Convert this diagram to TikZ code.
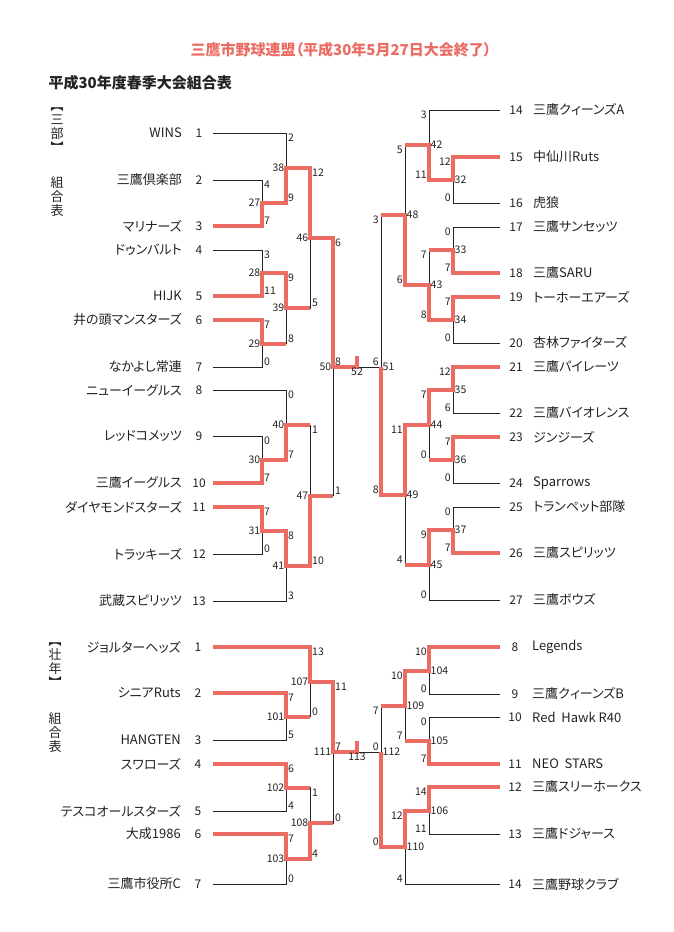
\documentclass[tikz,border=0pt]{standalone}
\usepackage{fontspec}
\usepackage{tikz}
\newfontfamily\jp[RawFeature=+palt]{Noto Sans CJK JP}
\definecolor{rdline}{RGB}{236,108,100}
\definecolor{ink}{RGB}{35,35,35}

\begin{document}
\begin{tikzpicture}[x=1pt,y=-1pt,
	lname/.style={anchor=east,inner sep=0pt,text=ink,font=\jp\fontsize{13}{15}\selectfont},
	rname/.style={anchor=west,inner sep=0pt,text=ink,font=\jp\fontsize{13}{15}\selectfont},
	tno/.style={inner sep=0pt,text=ink,font=\jp\fontsize{12}{14}\selectfont},
	mnl/.style={anchor=east,inner sep=1.5pt,text=ink,font=\jp\fontsize{10.5}{12}\selectfont},
	mnr/.style={anchor=west,inner sep=1.5pt,text=ink,font=\jp\fontsize{10.5}{12}\selectfont},
	fno/.style={anchor=north,inner sep=1pt,text=ink,font=\jp\fontsize{10.5}{12}\selectfont},
	sclt/.style={anchor=north west,inner xsep=2pt,inner ysep=1pt,text=ink,font=\jp\fontsize{10.5}{12}\selectfont},
	sclb/.style={anchor=south west,inner xsep=2pt,inner ysep=1pt,text=ink,font=\jp\fontsize{10.5}{12}\selectfont},
	scrt/.style={anchor=north east,inner xsep=2pt,inner ysep=1pt,text=ink,font=\jp\fontsize{10.5}{12}\selectfont},
	scrb/.style={anchor=south east,inner xsep=2pt,inner ysep=1pt,text=ink,font=\jp\fontsize{10.5}{12}\selectfont},
	vlab/.style={align=center,inner sep=0pt,text=ink,font=\jp\fontsize{13}{14}\selectfont},
	ln/.style={draw=ink,line width=0.9pt},
	rd/.style={draw=rdline,line width=4pt}]
	\fill[white] (0,0) rectangle (673,932);
	\useasboundingbox (0,0) rectangle (673,932);

	% headings
	\node[text=rdline,font=\jp\bfseries\fontsize{15}{17}\selectfont] (title) at (341,50) {三鷹市野球連盟（平成30年5月27日大会終了）};
	\node[anchor=west,text=ink,font=\jp\bfseries\fontsize{15}{17}\selectfont] (sub) at (45,83) {平成30年度春季大会組合表};
	\node[vlab] (g1) at (57,130) {︻\\三\\部\\︼};
	\node[vlab] (g2) at (57,197) {組\\合\\表};
	\node[vlab] (g3) at (55,665.5) {︻\\壮\\年\\︼};
	\node[vlab] (g4) at (55,733) {組\\合\\表};

	% teams, upper left
	\node[lname] (n1) at (182,133) {WINS}; \node[tno] (k1) at (199,133) {1}; \coordinate (t1) at (213,133);
	\node[lname] (n2) at (182,180) {三鷹倶楽部}; \node[tno] (k2) at (199,180) {2}; \coordinate (t2) at (213,180);
	\node[lname] (n3) at (182,226) {マリナーズ}; \node[tno] (k3) at (199,226) {3}; \coordinate (t3) at (213,226);
	\node[lname] (n4) at (182,250) {ドゥンバルト}; \node[tno] (k4) at (199,250) {4}; \coordinate (t4) at (213,250);
	\node[lname] (n5) at (182,296) {HIJK}; \node[tno] (k5) at (199,296) {5}; \coordinate (t5) at (213,296);
	\node[lname] (n6) at (182,320) {井の頭マンスターズ}; \node[tno] (k6) at (199,320) {6}; \coordinate (t6) at (213,320);
	\node[lname] (n7) at (182,367) {なかよし常連}; \node[tno] (k7) at (199,367) {7}; \coordinate (t7) at (213,367);
	\node[lname] (n8) at (182,390) {ニューイーグルス}; \node[tno] (k8) at (199,390) {8}; \coordinate (t8) at (213,390);
	\node[lname] (n9) at (182,436) {レッドコメッツ}; \node[tno] (k9) at (199,436) {9}; \coordinate (t9) at (213,436);
	\node[lname] (n10) at (182,483) {三鷹イーグルス}; \node[tno] (k10) at (199,483) {10}; \coordinate (t10) at (213,483);
	\node[lname] (n11) at (182,507) {ダイヤモンドスターズ}; \node[tno] (k11) at (199,507) {11}; \coordinate (t11) at (213,507);
	\node[lname] (n12) at (182,554) {トラッキーズ}; \node[tno] (k12) at (199,554) {12}; \coordinate (t12) at (213,554);
	\node[lname] (n13) at (182,601) {武蔵スピリッツ}; \node[tno] (k13) at (199,601) {13}; \coordinate (t13) at (213,601);

	% teams, upper right
	\coordinate (t14) at (500,110); \node[tno] (k14) at (516,110) {14}; \node[rname] (n14) at (533,110) {三鷹クィーンズA};
	\coordinate (t15) at (500,157); \node[tno] (k15) at (516,157) {15}; \node[rname] (n15) at (533,157) {中仙川Ruts};
	\coordinate (t16) at (500,203); \node[tno] (k16) at (516,203) {16}; \node[rname] (n16) at (533,203) {虎狼};
	\coordinate (t17) at (500,227); \node[tno] (k17) at (516,227) {17}; \node[rname] (n17) at (533,227) {三鷹サンセッツ};
	\coordinate (t18) at (500,273); \node[tno] (k18) at (516,273) {18}; \node[rname] (n18) at (533,273) {三鷹SARU};
	\coordinate (t19) at (500,297); \node[tno] (k19) at (516,297) {19}; \node[rname] (n19) at (533,297) {トーホーエアーズ};
	\coordinate (t20) at (500,343); \node[tno] (k20) at (516,343) {20}; \node[rname] (n20) at (533,343) {杏林ファイターズ};
	\coordinate (t21) at (500,367); \node[tno] (k21) at (516,367) {21}; \node[rname] (n21) at (533,367) {三鷹パイレーツ};
	\coordinate (t22) at (500,413); \node[tno] (k22) at (516,413) {22}; \node[rname] (n22) at (533,413) {三鷹バイオレンス};
	\coordinate (t23) at (500,437); \node[tno] (k23) at (516,437) {23}; \node[rname] (n23) at (533,437) {ジンジーズ};
	\coordinate (t24) at (500,483); \node[tno] (k24) at (516,483) {24}; \node[rname] (n24) at (533,483) {Sparrows};
	\coordinate (t25) at (500,507); \node[tno] (k25) at (516,507) {25}; \node[rname] (n25) at (533,507) {トランペット部隊};
	\coordinate (t26) at (500,553); \node[tno] (k26) at (516,553) {26}; \node[rname] (n26) at (533,553) {三鷹スピリッツ};
	\coordinate (t27) at (500,600); \node[tno] (k27) at (516,600) {27}; \node[rname] (n27) at (533,600) {三鷹ボウズ};

	% teams, lower
	\node[lname] (p1) at (181,647) {ジョルターヘッズ}; \node[tno] (q1) at (198,647) {1}; \coordinate (u1) at (213,647);
	\node[lname] (p2) at (181,693) {シニアRuts}; \node[tno] (q2) at (198,693) {2}; \coordinate (u2) at (213,693);
	\node[lname] (p3) at (181,740) {HANGTEN}; \node[tno] (q3) at (198,740) {3}; \coordinate (u3) at (213,740);
	\node[lname] (p4) at (181,764) {スワローズ}; \node[tno] (q4) at (198,764) {4}; \coordinate (u4) at (213,764);
	\node[lname] (p5) at (181,811) {テスコオールスターズ}; \node[tno] (q5) at (198,811) {5}; \coordinate (u5) at (213,811);
	\node[lname] (p6) at (181,834) {大成1986}; \node[tno] (q6) at (198,834) {6}; \coordinate (u6) at (213,834);
	\node[lname] (p7) at (181,884) {三鷹市役所C}; \node[tno] (q7) at (198,884) {7}; \coordinate (u7) at (213,884);
	\coordinate (u8) at (500,647); \node[tno] (q8) at (515,647) {8}; \node[rname] (p8) at (532,647) {Legends};
	\coordinate (u9) at (500,694); \node[tno] (q9) at (515,694) {9}; \node[rname] (p9) at (532,694) {三鷹クィーンズB};
	\coordinate (u10) at (500,717); \node[tno] (q10) at (515,717) {10}; \node[rname] (p10) at (532,717) {Red\ \ Hawk R40};
	\coordinate (u11) at (500,764); \node[tno] (q11) at (515,764) {11}; \node[rname] (p11) at (532,764) {NEO\ \ STARS};
	\coordinate (u12) at (500,787); \node[tno] (q12) at (515,787) {12}; \node[rname] (p12) at (532,787) {三鷹スリーホークス};
	\coordinate (u13) at (500,834); \node[tno] (q13) at (515,834) {13}; \node[rname] (p13) at (532,834) {三鷹ドジャース};
	\coordinate (u14) at (500,884); \node[tno] (q14) at (515,884) {14}; \node[rname] (p14) at (532,884) {三鷹野球クラブ};

	% match points
	\coordinate (m27) at (262,203); \coordinate (m28) at (262,273); \coordinate (m29) at (262,343.5);
	\coordinate (m30) at (262,459.5); \coordinate (m31) at (262,530.5);
	\coordinate (m38) at (286,168); \coordinate (m39) at (286,308); \coordinate (m40) at (286,425); \coordinate (m41) at (286,566);
	\coordinate (m46) at (310,238); \coordinate (m47) at (310,495.5);
	\coordinate (m50) at (333,367); \coordinate (m52) at (357,367); \coordinate (m51) at (381,367);
	\coordinate (m48) at (405,215); \coordinate (m49) at (405,495);
	\coordinate (m42) at (429,145); \coordinate (m43) at (429,285); \coordinate (m44) at (429,425); \coordinate (m45) at (429,565);
	\coordinate (m32) at (453,180); \coordinate (m33) at (453,250); \coordinate (m34) at (453,320);
	\coordinate (m35) at (453,390); \coordinate (m36) at (453,460); \coordinate (m37) at (453,530);
	\coordinate (m101) at (286,716.5); \coordinate (m102) at (286,787.5); \coordinate (m103) at (286,859);
	\coordinate (m107) at (310,682); \coordinate (m108) at (310,823);
	\coordinate (m111) at (333,752); \coordinate (m113) at (357,752); \coordinate (m112) at (381,752);
	\coordinate (m109) at (405,705.5); \coordinate (m110) at (405,847);
	\coordinate (m104) at (429,670.5); \coordinate (m105) at (429,740.5); \coordinate (m106) at (429,810.5);

	% bracket lines
	\draw[ln] (t1) -| (m38) (t2) -| (m27) (t3) -| (m27) (m27) -| (m38) (m38) -| (m46)
		(t4) -| (m28) (t5) -| (m28) (t6) -| (m29) (t7) -| (m29) (m28) -| (m39) (m29) -| (m39) (m39) -| (m46)
		(t8) -| (m40) (t9) -| (m30) (t10) -| (m30) (m30) -| (m40) (t11) -| (m31) (t12) -| (m31)
		(m31) -| (m41) (t13) -| (m41) (m40) -| (m47) (m41) -| (m47) (m46) -| (m50) (m47) -| (m50)
		(m50) -- (m51);
	\draw[ln] (t14) -| (m42) (t15) -| (m32) (t16) -| (m32) (m32) -| (m42) (t17) -| (m33) (t18) -| (m33)
		(t19) -| (m34) (t20) -| (m34) (m33) -| (m43) (m34) -| (m43) (m42) -| (m48) (m43) -| (m48)
		(t21) -| (m35) (t22) -| (m35) (t23) -| (m36) (t24) -| (m36) (m35) -| (m44) (m36) -| (m44)
		(t25) -| (m37) (t26) -| (m37) (m37) -| (m45) (t27) -| (m45) (m44) -| (m49) (m45) -| (m49)
		(m48) -| (m51) (m49) -| (m51);
	\draw[ln] (u1) -| (m107) (u2) -| (m101) (u3) -| (m101) (m101) -| (m107) (u4) -| (m102) (u5) -| (m102)
		(u6) -| (m103) (u7) -| (m103) (m102) -| (m108) (m103) -| (m108) (m107) -| (m111) (m108) -| (m111)
		(m111) -- (m112)
		(u8) -| (m104) (u9) -| (m104) (u10) -| (m105) (u11) -| (m105) (m104) -| (m109) (m105) -| (m109)
		(u12) -| (m106) (u13) -| (m106) (m106) -| (m110) (u14) -| (m110) (m109) -| (m112) (m110) -| (m112);

	% winners
	\draw[rd] (t3) -| (m27) -| (m38) -| (m46) -| (m50) -- (m52) -- ++(0,-11);
	\draw[rd] (t5) -| (m28) -| (m39) -- (m39 -| m46);
	\draw[rd] (t6) -| (m29) -- (m29 -| m39);
	\draw[rd] (t10) -| (m30) -| (m40) -- (m40 -| m47);
	\draw[rd] (t11) -| (m31) -| (m41) -| (m47) -- (m47 -| m50);
	\draw[rd] (t15) -| (m32) -| (m42) -- (m42 -| m48);
	\draw[rd] (t18) -| (m33) -- (m33 -| m43);
	\draw[rd] (t19) -| (m34) -| (m43) -| (m48) -- (m48 -| m51);
	\draw[rd] (t21) -| (m35) -| (m44) -| (m49) -| (m51);
	\draw[rd] (t23) -| (m36) -- (m36 -| m44);
	\draw[rd] (t26) -| (m37) -| (m45) -- (m45 -| m49);
	\draw[rd] (u1) -| (m107) -| (m111) -- (m113) -- ++(0,-11);
	\draw[rd] (u2) -| (m101) -- (m101 -| m107);
	\draw[rd] (u4) -| (m102) -- (m102 -| m108);
	\draw[rd] (u6) -| (m103) -| (m108) -- (m108 -| m111);
	\draw[rd] (u8) -| (m104) -| (m109) -- (m109 -| m112);
	\draw[rd] (u11) -| (m105) -- (m105 -| m109);
	\draw[rd] (u12) -| (m106) -| (m110) -| (m112);

	% match numbers
	\node[mnl] (l27) at (m27) {27}; \node[mnl] (l28) at (m28) {28}; \node[mnl] (l29) at (m29) {29};
	\node[mnl] (l30) at (m30) {30}; \node[mnl] (l31) at (m31) {31}; \node[mnl] (l38) at (m38) {38};
	\node[mnl] (l39) at (m39) {39}; \node[mnl] (l40) at (m40) {40}; \node[mnl] (l41) at (m41) {41};
	\node[mnl] (l46) at (m46) {46}; \node[mnl] (l47) at (m47) {47}; \node[mnl] (l50) at (m50) {50};
	\node[mnr] (l32) at (m32) {32}; \node[mnr] (l33) at (m33) {33}; \node[mnr] (l34) at (m34) {34};
	\node[mnr] (l35) at (m35) {35}; \node[mnr] (l36) at (m36) {36}; \node[mnr] (l37) at (m37) {37};
	\node[mnr] (l42) at (m42) {42}; \node[mnr] (l43) at (m43) {43}; \node[mnr] (l44) at (m44) {44};
	\node[mnr] (l45) at (m45) {45}; \node[mnr] (l48) at (m48) {48}; \node[mnr] (l49) at (m49) {49};
	\node[mnr] (l51) at (m51) {51}; \node[fno] (l52) at (m52) {52};
	\node[mnl] (l101) at (m101) {101}; \node[mnl] (l102) at (m102) {102}; \node[mnl] (l103) at (m103) {103};
	\node[mnl] (l107) at (m107) {107}; \node[mnl] (l108) at (m108) {108}; \node[mnl] (l111) at (m111) {111};
	\node[mnr] (l104) at (m104) {104}; \node[mnr] (l105) at (m105) {105}; \node[mnr] (l106) at (m106) {106};
	\node[mnr] (l109) at (m109) {109}; \node[mnr] (l110) at (m110) {110}; \node[mnr] (l112) at (m112) {112};
	\node[fno] (l113) at (m113) {113};

	% scores
	\node[sclt] (s1) at (t1 -| m38) {2}; \node[sclb] (s2) at (m27 -| m38) {9};
	\node[sclt] (s3) at (t2 -| m27) {4}; \node[sclb] (s4) at (t3 -| m27) {7};
	\node[sclt] (s5) at (t4 -| m28) {3}; \node[sclb] (s6) at (t5 -| m28) {11};
	\node[sclt] (s7) at (t6 -| m29) {7}; \node[sclb] (s8) at (t7 -| m29) {0};
	\node[sclt] (s9) at (m28 -| m39) {9}; \node[sclb] (s10) at (m29 -| m39) {8};
	\node[sclt] (s11) at (m38 -| m46) {12}; \node[sclb] (s12) at (m39 -| m46) {5};
	\node[sclt] (s13) at (t8 -| m40) {0}; \node[sclb] (s14) at (m30 -| m40) {7};
	\node[sclt] (s15) at (t9 -| m30) {0}; \node[sclb] (s16) at (t10 -| m30) {7};
	\node[sclt] (s17) at (t11 -| m31) {7}; \node[sclb] (s18) at (t12 -| m31) {0};
	\node[sclt] (s19) at (m31 -| m41) {8}; \node[sclb] (s20) at (t13 -| m41) {3};
	\node[sclt] (s21) at (m40 -| m47) {1}; \node[sclb] (s22) at (m41 -| m47) {10};
	\node[sclt] (s23) at (m46 -| m50) {6}; \node[sclb] (s24) at (m47 -| m50) {1};
	\node[sclb] (s25) at (m50) {8}; \node[scrb] (s26) at (m51) {6};
	\node[scrt] (s27) at (t14 -| m42) {3}; \node[scrb] (s28) at (m32 -| m42) {11};
	\node[scrt] (s29) at (t15 -| m32) {12}; \node[scrb] (s30) at (t16 -| m32) {0};
	\node[scrt] (s31) at (t17 -| m33) {0}; \node[scrb] (s32) at (t18 -| m33) {7};
	\node[scrt] (s33) at (t19 -| m34) {7}; \node[scrb] (s34) at (t20 -| m34) {0};
	\node[scrt] (s35) at (m33 -| m43) {7}; \node[scrb] (s36) at (m34 -| m43) {8};
	\node[scrt] (s37) at (m42 -| m48) {5}; \node[scrb] (s38) at (m43 -| m48) {6};
	\node[scrt] (s39) at (t21 -| m35) {12}; \node[scrb] (s40) at (t22 -| m35) {6};
	\node[scrt] (s41) at (t23 -| m36) {7}; \node[scrb] (s42) at (t24 -| m36) {0};
	\node[scrt] (s43) at (m35 -| m44) {7}; \node[scrb] (s44) at (m36 -| m44) {0};
	\node[scrt] (s45) at (t25 -| m37) {0}; \node[scrb] (s46) at (t26 -| m37) {7};
	\node[scrt] (s47) at (m37 -| m45) {9}; \node[scrb] (s48) at (t27 -| m45) {0};
	\node[scrt] (s49) at (m44 -| m49) {11}; \node[scrb] (s50) at (m45 -| m49) {4};
	\node[scrt] (s51) at (m48 -| m51) {3}; \node[scrb] (s52) at (m49 -| m51) {8};
	\node[sclt] (v1) at (u1 -| m107) {13}; \node[sclb] (v2) at (m101 -| m107) {0};
	\node[sclt] (v3) at (u2 -| m101) {7}; \node[sclb] (v4) at (u3 -| m101) {5};
	\node[sclt] (v5) at (u4 -| m102) {6}; \node[sclb] (v6) at (u5 -| m102) {4};
	\node[sclt] (v7) at (u6 -| m103) {7}; \node[sclb] (v8) at (u7 -| m103) {0};
	\node[sclt] (v9) at (m102 -| m108) {1}; \node[sclb] (v10) at (m103 -| m108) {4};
	\node[sclt] (v11) at (m107 -| m111) {11}; \node[sclb] (v12) at (m108 -| m111) {0};
	\node[sclb] (v13) at (m111) {7}; \node[scrb] (v14) at (m112) {0};
	\node[scrt] (v15) at (u8 -| m104) {10}; \node[scrb] (v16) at (u9 -| m104) {0};
	\node[scrt] (v17) at (u10 -| m105) {0}; \node[scrb] (v18) at (u11 -| m105) {7};
	\node[scrt] (v19) at (u12 -| m106) {14}; \node[scrb] (v20) at (u13 -| m106) {11};
	\node[scrt] (v21) at (m104 -| m109) {10}; \node[scrb] (v22) at (m105 -| m109) {7};
	\node[scrt] (v23) at (m106 -| m110) {12}; \node[scrb] (v24) at (u14 -| m110) {4};
	\node[scrt] (v25) at (m109 -| m112) {7}; \node[scrb] (v26) at (m110 -| m112) {0};
\end{tikzpicture}
\end{document}
